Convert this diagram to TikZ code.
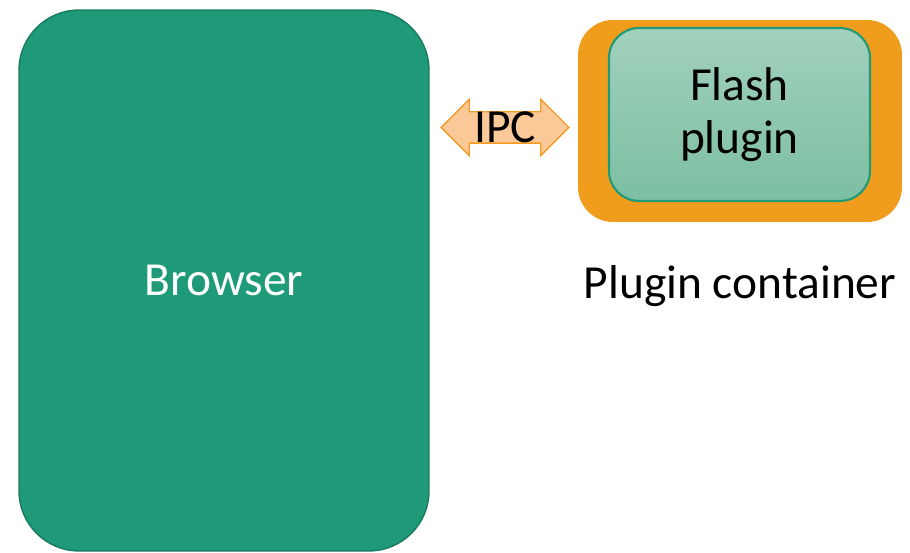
\documentclass[tikz,border=0pt]{standalone}
\usepackage{fontspec}
\setmainfont{Carlito}
\usetikzlibrary{shapes.arrows,positioning}
\definecolor{browsergreen}{RGB}{30,154,120}
\definecolor{browseredge}{RGB}{26,122,94}
\definecolor{boxorange}{RGB}{240,157,30}
\definecolor{flashtop}{RGB}{162,208,189}
\definecolor{flashbot}{RGB}{124,191,162}
\definecolor{ipcfill}{RGB}{251,200,152}
\definecolor{ipcedge}{RGB}{242,156,38}
\begin{document}
\begin{tikzpicture}[
  x=0.02cm, y=-0.02cm,
  every node/.style={font=\fontsize{27}{30}\selectfont, align=center},
  browser/.style={draw=browseredge, fill=browsergreen, text=white, thick, rounded corners=1.2cm,
    minimum width=8.2cm, minimum height=10.82cm},
  container/.style={fill=boxorange, rounded corners=0.7cm, minimum width=6.48cm, minimum height=4.04cm},
  flash/.style={draw=browsergreen, line width=1.2pt, top color=flashtop, bottom color=flashbot,
    rounded corners=0.6cm, minimum width=5.22cm, minimum height=3.46cm},
  ipcarrow/.style={double arrow, draw=ipcedge, fill=ipcfill, thick, inner sep=0pt,
    text height=0.6cm, text depth=0pt, minimum height=2.56cm, double arrow head extend=0.25cm},
]
%page size
\useasboundingbox (0,0) rectangle (910,553);

%boxes
\node[browser] (browser) at (224,280.5) {Browser};
\node[container] (container) at (740,121) {};
\node[flash] (flash) at (739.5,114.5) {Flash\\plugin};
\node[below=0.75cm of container.south] (containerlabel) {Plugin container};

%ipc
\node[ipcarrow, label=center:IPC] (ipc) at (505,127.5) {};

\end{tikzpicture}
\end{document}
